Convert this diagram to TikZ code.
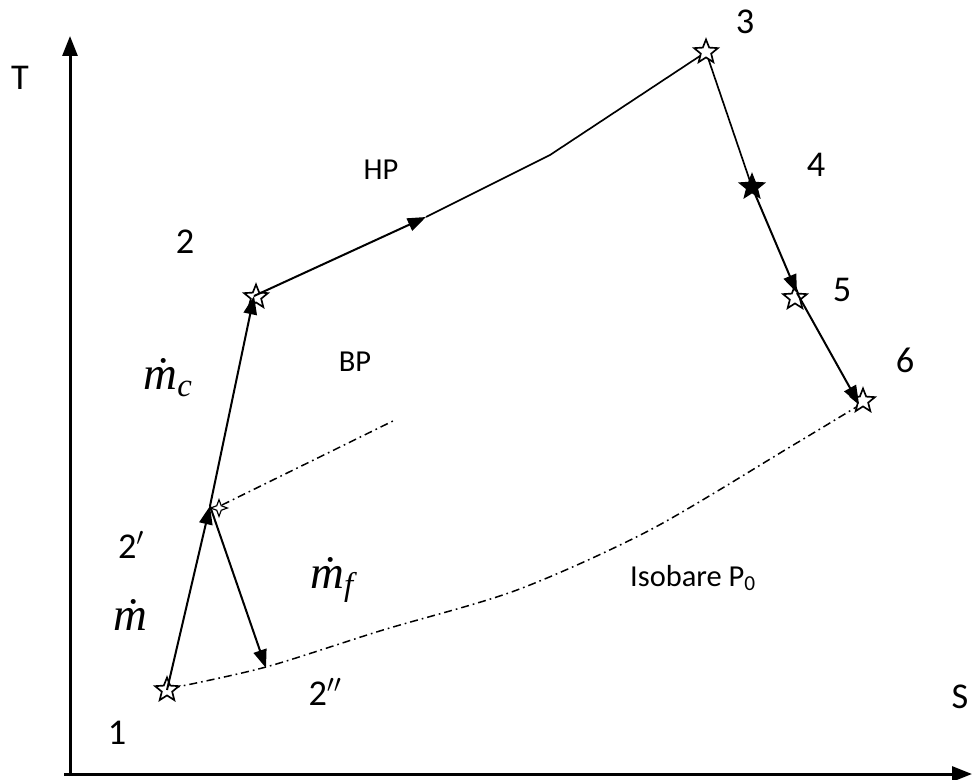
\RequirePackage{fix-cm}
\documentclass[tikz,border=0pt]{standalone}
\usepackage{fontspec}
\setmainfont{Carlito}
\newfontfamily\mfont{Liberation Serif}
\usetikzlibrary{shapes.geometric,arrows.meta}
\begin{document}
\begin{tikzpicture}[x=0.3mm,y=-0.3mm,
  axis/.style={line width=0.9mm,-{Triangle[length=6mm,width=4.5mm]}},
  flow/.style={line width=0.6mm,-{Triangle[length=5.5mm,width=4mm]}},
  plain/.style={line width=0.5mm},
  iso/.style={line width=0.45mm,dash pattern=on 2.4mm off 1.2mm on 0.5mm off 1.2mm},
  pt/.style={star,star points=5,star point ratio=2.3,minimum size=7.5mm,inner sep=0pt,draw=black,line width=0.5mm,fill=white},
  ptsmall/.style={star,star points=4,star point ratio=2.6,minimum size=5mm,inner sep=0pt,draw=black,line width=0.35mm,fill=white},
  ptfill/.style={pt,fill=black},
  lbl/.style={font=\fontsize{31}{35}\selectfont,inner sep=0pt},
  txt/.style={font=\fontsize{26}{30}\selectfont,inner sep=0pt},
  mth/.style={font=\mfont\itshape\fontsize{40}{44}\selectfont,inner sep=0pt}]
\useasboundingbox (0,0) rectangle (972,780);
% axes
\coordinate (Ttip) at (70,36);
\coordinate (Stip) at (972,774);
\draw[axis] (70,776) -- (Ttip);
\draw[axis] (64,774) -- (Stip);
\node[lbl] (T) at (20,78) {T};
\node[lbl] (S) at (960,697) {S};
% state coordinates
\coordinate (c1) at (167,690);
\coordinate (c2p) at (210,506);
\coordinate (c2pp) at (266,668);
\coordinate (c2) at (254,296);
\coordinate (cm) at (426,217);
\coordinate (k) at (550,155);
\coordinate (c3) at (706,52);
\coordinate (c4) at (752,187);
\coordinate (c5) at (797,293);
\coordinate (c6) at (859,404);
\coordinate (bps) at (222,505);
\coordinate (bpend) at (395,420);
% isobar P0
\draw[iso] plot[smooth] coordinates {(172,688) (266,667) (383,630) (517,590) (650,530) (790,447) (858,406)};
% BP isobar
\draw[iso] (bps) -- (bpend);
% HP line
\draw[plain] (cm) -- (k) -- (c3);
\draw[plain] (c3) -- (c4);
% stars
\node[pt] (s1) at (c1) {};
\node[ptsmall] (s2p) at (219,508) {};
\node[pt] (s2) at (256,297) {};
\node[pt] (s3) at (c3) {};
\node[ptfill] (s4) at (c4) {};
\node[pt] (s5) at (795,298) {};
\node[pt] (s6) at (863,401) {};
% flows
\draw[flow] (c1) -- (c2p);
\draw[flow] (c2p) -- (c2);
\draw[flow] (c2p) -- (c2pp);
\draw[flow] (c2) -- (cm);
\draw[flow] (c4) -- (c5);
\draw[flow] (c5) -- (c6);
% labels
\node[lbl] (l1) at (117,733) {1};
\node[lbl] (l2) at (185,242) {2};
\node[lbl] (l2p) at (131,545) {2$'$};
\node[lbl] (l2pp) at (325,692) {2$''$};
\node[lbl] (l3) at (745,22) {3};
\node[lbl] (l4) at (816,165) {4};
\node[lbl] (l5) at (842,290) {5};
\node[lbl] (l6) at (905,360) {6};
\node[txt] (hp) at (381,170) {HP};
\node[txt] (bp) at (355,362) {BP};
\node[txt] (isob) at (693,578) {Isobare P\textsubscript{0}};
\node[mth] (mc) at (168,378) {ṁ\textsubscript{c}};
\node[mth] (mf) at (332,580) {ṁ\textsubscript{f}};
\node[mth] (m) at (130,615) {ṁ};
\end{tikzpicture}
\end{document}
